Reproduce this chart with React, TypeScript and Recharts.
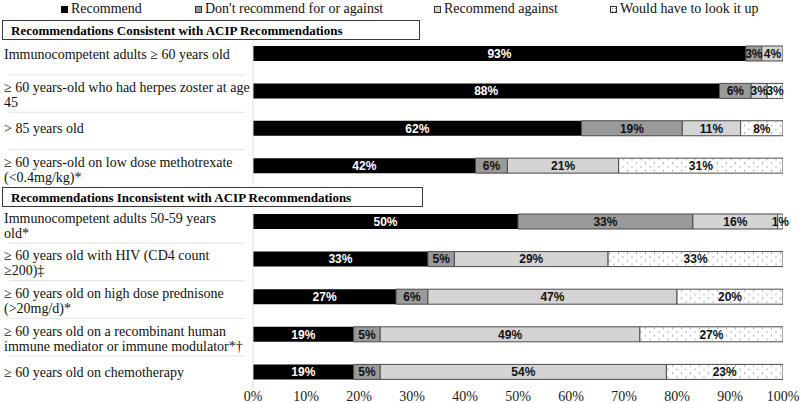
import React from 'react';
import { BarChart, Bar, XAxis, YAxis, LabelList } from 'recharts';

const categoriesConsistent = [
  'Immunocompetent adults \u2265 60 years old',
  '\u2265 60 years-old who had herpes zoster at age\n45',
  '> 85 years old',
  '\u2265 60 years-old on low dose methotrexate\n(<0.4mg/kg)*',
];
const categoriesInconsistent = [
  'Immunocompetent adults 50-59 years\nold*',
  '\u2265 60 years old with HIV (CD4 count\n\u2265200)\u2021',
  '\u2265 60 years old on high dose prednisone\n(>20mg/d)*',
  '\u2265 60 years old on a recombinant human\nimmune mediator or immune modulator*\u2020',
  '\u2265 60 years old on chemotherapy',
];
const recommend = [93, 88, 62, 42, 50, 33, 27, 19, 19];
const neutral = [3, 6, 19, 6, 33, 5, 6, 5, 5];
const against = [4, 3, 11, 21, 16, 29, 47, 49, 54];
const lookUp = [0, 3, 8, 31, 1, 33, 20, 27, 23];
const xTicks = [0, 10, 20, 30, 40, 50, 60, 70, 80, 90, 100];
const seriesNames = ['Recommend', "Don't recommend for or against", 'Recommend against', 'Would have to look it up'];
const groupTitles = ['Recommendations Consistent with ACIP Recommendations', 'Recommendations Inconsistent with ACIP Recommendations'];

const allCategories = [...categoriesConsistent, ...categoriesInconsistent];
const rows = allCategories.map((name, i) => ({
  name,
  recommend: recommend[i],
  neutral: neutral[i],
  against: against[i],
  lookUp: lookUp[i],
}));
const topData = rows.slice(0, categoriesConsistent.length);
const bottomData = rows.slice(categoriesConsistent.length);

const SERIF = '"Liberation Serif", "Times New Roman", serif';
const SANS = '"Liberation Sans", Arial, sans-serif';
const BORDER = '#4a4a4a';

const makeLabel = (color: string) => (props: any) => {
  const vb = props.viewBox || {};
  const x = props.x ?? vb.x;
  const y = props.y ?? vb.y;
  const w = props.width ?? vb.width;
  const h = props.height ?? vb.height;
  const v = props.value;
  if (!v) return null;
  return (
    <text x={x + w / 2} y={y + h / 2} dy="0.36em" textAnchor="middle" fill={color}
      fontSize={12} fontWeight={700} fontFamily={SANS}>{`${v}%`}</text>
  );
};

const makeYTick = (band: number) => (props: any) => {
  const { y, payload, index } = props;
  const lines: string[] = String(payload.value).split('\n');
  const offs = lines.length === 1 ? [5] : [1, 16];
  return (
    <g>
      {index > 0 && (
        <line x1={9} x2={245} y1={y - band / 2 + 2.5} y2={y - band / 2 + 2.5} stroke="#e2e2e2" strokeWidth={1} />
      )}
      <text x={4} y={y} fontSize={14} fontFamily={SERIF} fill="#111">
        {lines.map((l, i) => (
          <tspan key={i} x={4} y={y + offs[i]}>{l}</tspan>
        ))}
      </text>
    </g>
  );
};

const XTick = (props: any) => {
  const { x, payload } = props;
  return (
    <text x={x} y={401} textAnchor="middle" fontSize={14} fontFamily={SERIF} fill="#222">{`${payload.value}%`}</text>
  );
};

const Defs = ({ id }: { id: string }) => (
  <defs>
    <pattern id={id} width={9} height={7.5} patternUnits="userSpaceOnUse">
      <rect width={9} height={7.5} fill="#ffffff" />
      <rect x={1.5} y={1.5} width={1} height={1} fill="#666" />
      <rect x={6} y={5.2} width={1} height={1} fill="#666" />
    </pattern>
  </defs>
);

const renderBars = (patternId: string) => [
  <Bar key="r" dataKey="recommend" stackId="s" fill="#000000" barSize={15} isAnimationActive={false}>
    <LabelList dataKey="recommend" content={makeLabel('#ffffff')} />
  </Bar>,
  <Bar key="n" dataKey="neutral" stackId="s" fill="#9a9a9a" stroke={BORDER} strokeWidth={1} barSize={15} isAnimationActive={false}>
    <LabelList dataKey="neutral" content={makeLabel('#111111')} />
  </Bar>,
  <Bar key="a" dataKey="against" stackId="s" fill="#d4d4d4" stroke={BORDER} strokeWidth={1} barSize={15} isAnimationActive={false}>
    <LabelList dataKey="against" content={makeLabel('#111111')} />
  </Bar>,
  <Bar key="l" dataKey="lookUp" stackId="s" fill={`url(#${patternId})`} stroke={BORDER} strokeWidth={1} barSize={15} isAnimationActive={false}>
    <LabelList dataKey="lookUp" content={makeLabel('#111111')} />
  </Bar>,
];

const legendSwatches = [
  { fill: '#000000', border: '#000000', dots: false },
  { fill: '#9a9a9a', border: '#333', dots: false },
  { fill: '#d4d4d4', border: '#333', dots: false },
  { fill: '#ffffff', border: '#333', dots: true },
];
const legendLefts = [61, 195, 434, 610];

const HeaderBox = ({ top, width, text }: { top: number; width: number; text: string }) => (
  <div style={{
    position: 'absolute', left: 2, top, width, height: 18, border: '1px solid #3a3a3a',
    boxSizing: 'content-box', fontFamily: SERIF, fontWeight: 700, fontSize: 13, lineHeight: '18px',
    paddingLeft: 0, background: '#fff', zIndex: 2,
  }}>
    <span style={{ position: 'absolute', left: 8, top: 1 }}>{text}</span>
  </div>
);

export default function App() {
  const topBand = 149.5 / 4;
  const bottomBand = 188 / 5;
  return (
    <div style={{ position: 'absolute', left: 0, top: 0, width: 800, height: 403, background: '#fff', overflow: 'hidden' }}>
      {seriesNames.map((n, i) => (
        <div key={n} style={{ position: 'absolute', left: legendLefts[i], top: 0, height: 18, display: 'flex', alignItems: 'center', fontFamily: SERIF, fontSize: 14, color: '#111', whiteSpace: 'nowrap' }}>
          <span style={{
            display: 'inline-block', width: 5, height: 5, border: `1px solid ${legendSwatches[i].border}`,
            background: legendSwatches[i].fill, marginRight: 3,
            backgroundImage: legendSwatches[i].dots ? 'radial-gradient(#777 0.6px, transparent 0.8px)' : undefined,
            backgroundSize: legendSwatches[i].dots ? '3px 3px' : undefined,
          }} />
          {n}
        </div>
      ))}
      <HeaderBox top={20} width={416} text={groupTitles[0]} />
      <HeaderBox top={187} width={419} text={groupTitles[1]} />
      <div style={{ position: 'absolute', left: 0, top: 0 }}>
        <BarChart width={800} height={403} data={topData} layout="vertical"
          margin={{ top: 35, right: 17, bottom: 218.5, left: 1 }} barCategoryGap={0}>
          <Defs id="dotsTop" />
          <XAxis type="number" domain={[0, 100]} ticks={xTicks} hide allowDataOverflow />
          <YAxis type="category" dataKey="name" width={252} tickLine={false} axisLine={{ stroke: '#dddddd' }}
            tick={makeYTick(topBand)} interval={0} />
          {renderBars('dotsTop')}
        </BarChart>
      </div>
      <div style={{ position: 'absolute', left: 0, top: 0 }}>
        <BarChart width={800} height={403} data={bottomData} layout="vertical"
          margin={{ top: 203, right: 17, bottom: 0, left: 1 }} barCategoryGap={0}>
          <Defs id="dotsBottom" />
          <XAxis type="number" domain={[0, 100]} ticks={xTicks} height={12} tickLine={false} axisLine={false}
            tick={<XTick />} interval={0} allowDataOverflow />
          <YAxis type="category" dataKey="name" width={252} tickLine={false} axisLine={{ stroke: '#dddddd' }}
            tick={makeYTick(bottomBand)} interval={0} />
          {renderBars('dotsBottom')}
        </BarChart>
      </div>
    </div>
  );
}
